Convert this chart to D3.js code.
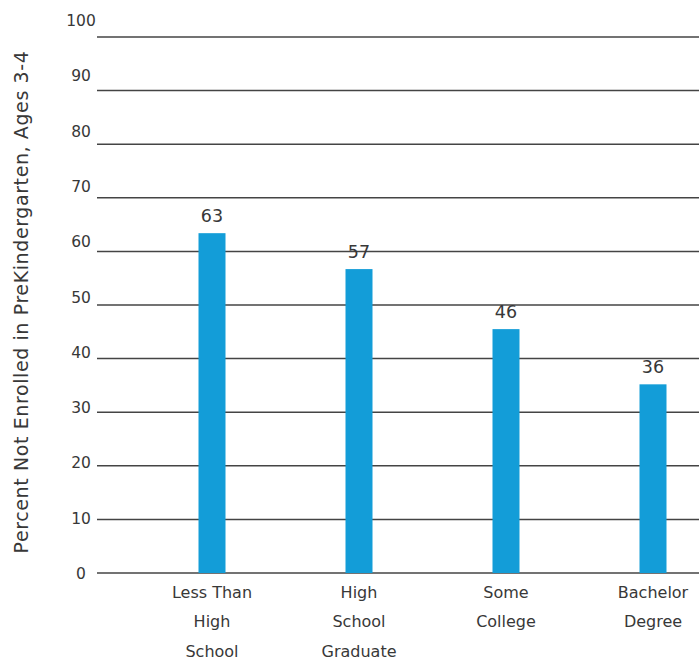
<!DOCTYPE html>
<html>
<head>
<meta charset="utf-8">
<script src="https://cdn.jsdelivr.net/npm/d3@7"></script>
<style>
  html, body { margin: 0; padding: 0; background: #fff; }
  svg { display: block; font-family: "DejaVu Sans", sans-serif; }
</style>
</head>
<body>
<svg id="chart" width="699" height="660"></svg>
<script>
const categories = [["Less Than", "High", "School"], ["High", "School", "Graduate"], ["Some", "College"], ["Bachelor", "Degree"]];
const categoryKeys = ["Less Than High School", "High School Graduate", "Some College", "Bachelor Degree"];
const values = [63.4, 56.7, 45.5, 35.2];
const valueLabels = ["63", "57", "46", "36"];
const yTicks = [0, 10, 20, 30, 40, 50, 60, 70, 80, 90, 100];
const yTitle = "Percent Not Enrolled in PreKindergarten, Ages 3-4";

const svg = d3.select("#chart");
const plot = { left: 97, right: 699, top: 37, bottom: 573 };

const y = d3.scaleLinear().domain([0, 100]).range([plot.bottom, plot.top]);
// tick labels in the reference drift slightly relative to the gridlines
const yLabel = d3.scaleLinear().domain([0, 100]).range([574, 21]);
const x = d3.scalePoint().domain(categoryKeys).range([212, 653]);
const barW = 27;

// gridlines
svg.append("g").selectAll("line").data(yTicks).join("line")
  .attr("x1", plot.left).attr("x2", plot.right)
  .attr("y1", d => y(d)).attr("y2", d => y(d))
  .attr("stroke", "#444").attr("stroke-width", 1.5);

// tick labels
svg.append("g").selectAll("text").data(yTicks).join("text")
  .attr("x", 81).attr("y", d => yLabel(d))
  .attr("text-anchor", "middle").attr("dominant-baseline", "central")
  .attr("font-size", 15.5).attr("fill", "#383838")
  .text(d => d);

// bars
svg.append("g").selectAll("rect").data(values).join("rect")
  .attr("x", (d, i) => x(categoryKeys[i]) - barW / 2)
  .attr("width", barW)
  .attr("y", d => y(d))
  .attr("height", d => y(0) - y(d))
  .attr("fill", "#139dd8");

// value labels
svg.append("g").selectAll("text").data(values).join("text")
  .attr("x", (d, i) => x(categoryKeys[i]))
  .attr("y", d => y(d) - 17)
  .attr("text-anchor", "middle").attr("dominant-baseline", "central")
  .attr("font-size", 17.5).attr("fill", "#383838")
  .text((d, i) => valueLabels[i]);

// category labels
const cat = svg.append("g").selectAll("text").data(categories).join("text")
  .attr("text-anchor", "middle").attr("font-size", 16).attr("fill", "#383838");
cat.each(function(lines, i) {
  d3.select(this).selectAll("tspan").data(lines).join("tspan")
    .attr("x", x(categoryKeys[i]))
    .attr("y", (l, j) => 592 + j * 29.5)
    .attr("dominant-baseline", "central")
    .text(l => l);
});

// y-axis title
svg.append("text")
  .attr("transform", "translate(21,302) rotate(-90)")
  .attr("text-anchor", "middle").attr("dominant-baseline", "central")
  .attr("font-size", 19).attr("letter-spacing", 0.6).attr("fill", "#383838")
  .text(yTitle);
</script>
</body>
</html>
